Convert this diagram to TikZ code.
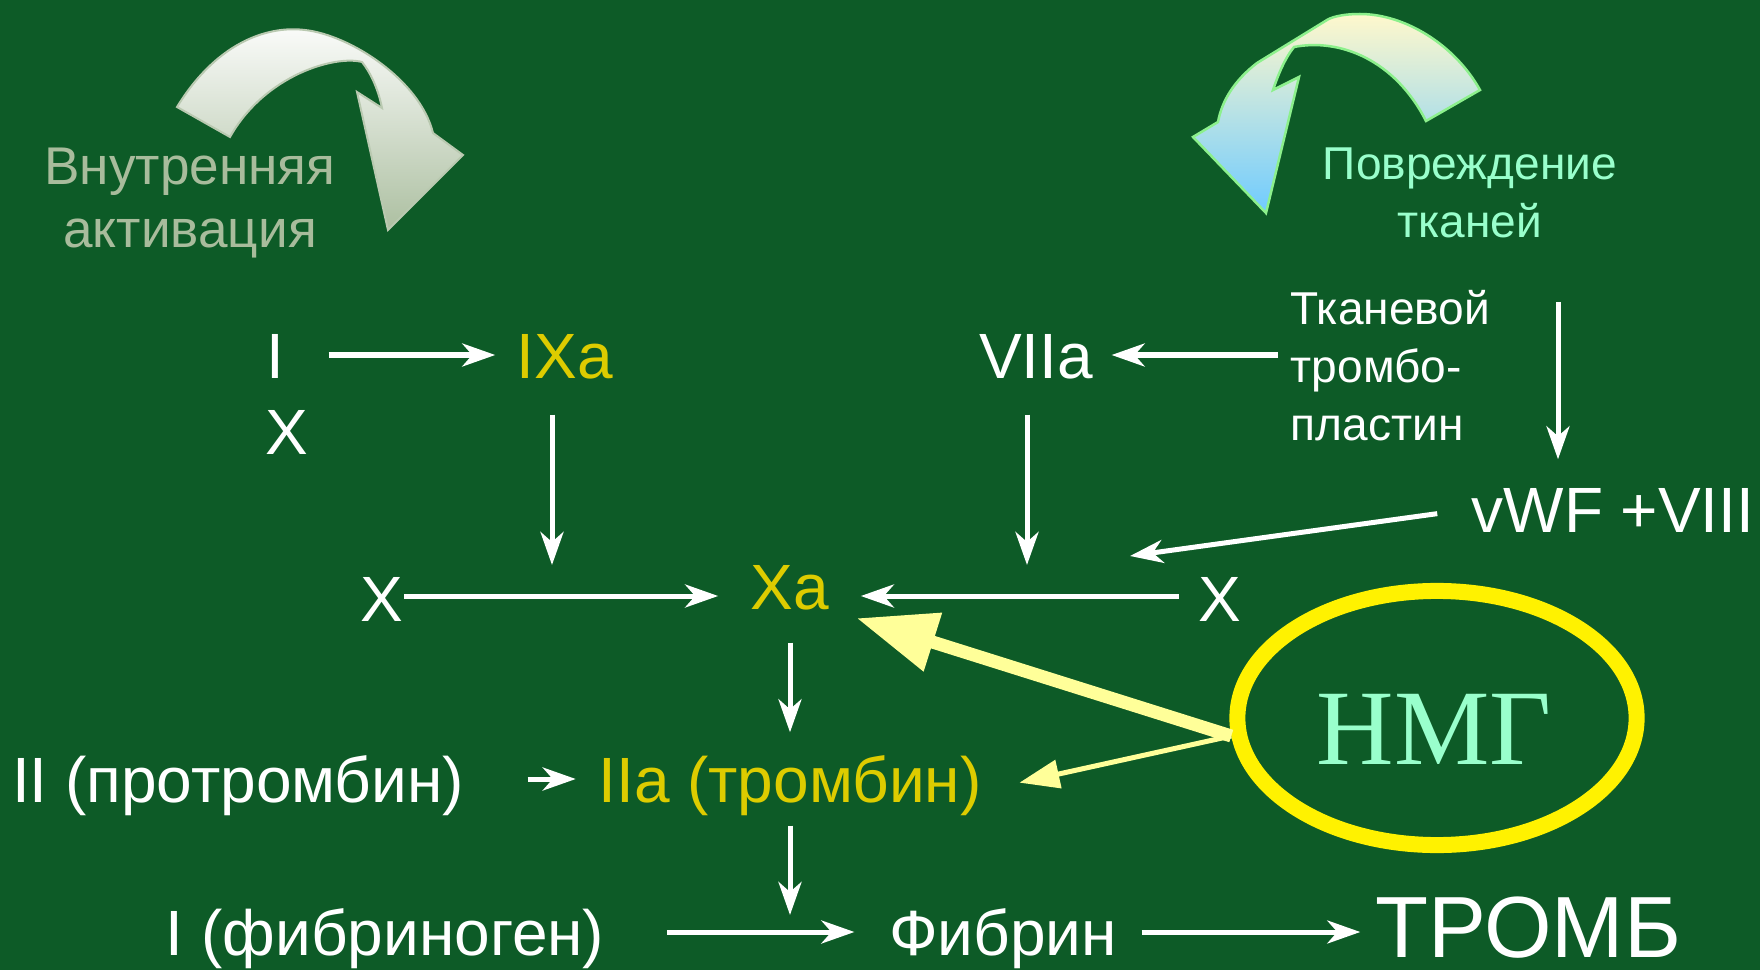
\documentclass[tikz,border=0pt]{standalone}
\usepackage{fontspec}
\setmainfont{Liberation Sans}
\newfontfamily\nmgfont{Liberation Serif}
\usetikzlibrary{arrows.meta,calc,shapes.geometric}
\definecolor{board}{HTML}{0D5B27}
\definecolor{factor}{HTML}{DDCC00}
\definecolor{mint}{HTML}{99FFCC}
\definecolor{sage}{HTML}{A8BC9C}
\definecolor{pale}{HTML}{FFFF99}
\definecolor{cream}{HTML}{FFF8CC}
\definecolor{sky}{HTML}{6FCBFF}
\definecolor{rim}{HTML}{8CF08C}

\begin{document}
\begin{tikzpicture}[x=0.01cm,y=-0.01cm,>={Stealth[length=0.33cm,width=0.23cm,inset=0.1cm]},
  lbl/.style={inner sep=0pt,text=white,font=\fontsize{18.2}{22}\selectfont,text height=0.46cm,text depth=0pt},
  act/.style={lbl,text=factor},
  note/.style={inner sep=0pt,font=\fontsize{13.1}{16.4}\selectfont},
  arr/.style={->,white,line width=0.05cm}]
  \fill[board] (0,0) rectangle (1760,970);
  \useasboundingbox (0,0) rectangle (1760,970);

  % curved arrows at the top
  \path[draw=sage!80!white,line width=0.02cm,top color=white!95!sage,bottom color=sage!95!white]
    (177,107) .. controls (215,45) and (265,25) .. (305,30)
    .. controls (350,35) and (420,80) .. (433,133) -- (463,155) -- (388,230) -- (357,92) -- (382,108)
    .. controls (378,88) and (370,72) .. (362,62)
    .. controls (335,55) and (265,75) .. (230,137) -- cycle;
  \path[draw=rim,line width=0.025cm,top color=cream,bottom color=sky]
    (1480,90) .. controls (1455,45) and (1405,14) .. (1360,14)
    .. controls (1340,14) and (1330,18) .. (1327,20) -- (1257,63)
    .. controls (1235,80) and (1222,100) .. (1218,122) -- (1193,137) -- (1266,213) -- (1299,77) -- (1273,90)
    .. controls (1278,75) and (1285,58) .. (1294,47)
    .. controls (1340,38) and (1395,60) .. (1426,121) -- cycle;
  \node[inner sep=0pt,anchor=north,align=center,text=sage,font=\fontsize{15.1}{17.9}\selectfont] (intr) at (190,147) {Внутренняя\\активация};
  \node[inner sep=0pt,anchor=north,align=center,text=mint,font=\fontsize{13.1}{16.5}\selectfont] (dmg) at (1470,147) {Повреждение\\тканей};

  % factors
  \node[lbl] (i) at (275,355) {I};
  \node[lbl] (xlow) at (287,431) {X};
  \node[act] (ixa) at (565,355) {IXa};
  \node[lbl] (viia) at (1036,355) {VIIa};
  \node[note,anchor=north west,align=left,text=white] (tkan) at (1290,290) {Тканевой\\тромбо-\\пластин};
  \node[lbl] (vwf) at (1613,509) {vWF +VIII};
  \node[lbl] (xl) at (382,598) {X};
  \node[act] (xa) at (790,586) {Xa};
  \node[lbl] (xr) at (1220,598) {X};
  \node[lbl] (ii) at (238,779) {II (протромбин)};
  \node[act] (iia) at (790,779) {IIa (тромбин)};
  \node[lbl] (ifib) at (385,932) {I (фибриноген)};
  \node[lbl] (fib) at (1003,932) {Фибрин};
  \node[lbl,font=\fontsize{24.7}{30}\selectfont,text height=0.62cm] (tromb) at (1528,926) {ТРОМБ};

  \node[ellipse,draw=yellow,line width=0.16cm,minimum width=3.99cm,minimum height=2.54cm,inner sep=0pt] (nmg) at (1437,718) {};
  \node[inner sep=0pt,text=mint,font=\nmgfont\fontsize{30.5}{36}\selectfont,text height=0.71cm,text depth=0pt] (nmgtxt) at (1434,729) {НМГ};

  \coordinate (j1) at (552,596);
  \coordinate (j2) at (1027,596);
  \coordinate (j3) at (1130,556);
  \coordinate (k) at (1558,302);

  % cascade
  \draw[arr,shorten <=0.44cm,shorten >=0.21cm] (i) -- (ixa);
  \draw[arr,shorten <=0.36cm,shorten >=0.31cm] (ixa.south -| j1) -- (j1);
  \draw[arr,shorten >=0.32cm] (xl.east |- j1) -- (xa.west |- j1);
  \draw[arr,shorten <=0.12cm,shorten >=0.18cm] (tkan.west |- viia) -- (viia.east);
  \draw[arr,shorten <=0.36cm,shorten >=0.31cm] (viia.south -| j2) -- (j2);
  \draw[arr,shorten >=0.26cm] (k) -- (k |- vwf.north);
  \draw[arr,shorten <=0.34cm] (vwf.west) -- (j3);
  \draw[arr,shorten <=0.19cm,shorten >=0.31cm] (xr.west |- j1) -- (xa.east |- j1);
  \draw[arr,shorten <=0.33cm,shorten >=0.23cm] (xa) -- (iia);
  \draw[arr,shorten <=0.63cm,shorten >=0.22cm] (ii) -- (iia);
  \draw[arr,shorten <=0.23cm,shorten >=0.17cm] (iia) -- (iia |- fib);
  \draw[arr,shorten <=0.62cm,shorten >=0.34cm] (ifib) -- (fib);
  \draw[arr,shorten <=0.24cm,shorten >=0.14cm] (fib.east) -- (fib.east -| tromb.west);

  % heparin
  \draw[pale,line width=0.13cm,-{Triangle[length=0.8cm,width=0.58cm]},shorten >=0.28cm] (nmg.185) -- (xa.south east);
  \draw[pale,line width=0.05cm,-{Triangle[length=0.4cm,width=0.28cm]},shorten >=0.38cm] (nmg.185) -- ($(iia.east)!0.5!(iia.south east)$);
\end{tikzpicture}
\end{document}
